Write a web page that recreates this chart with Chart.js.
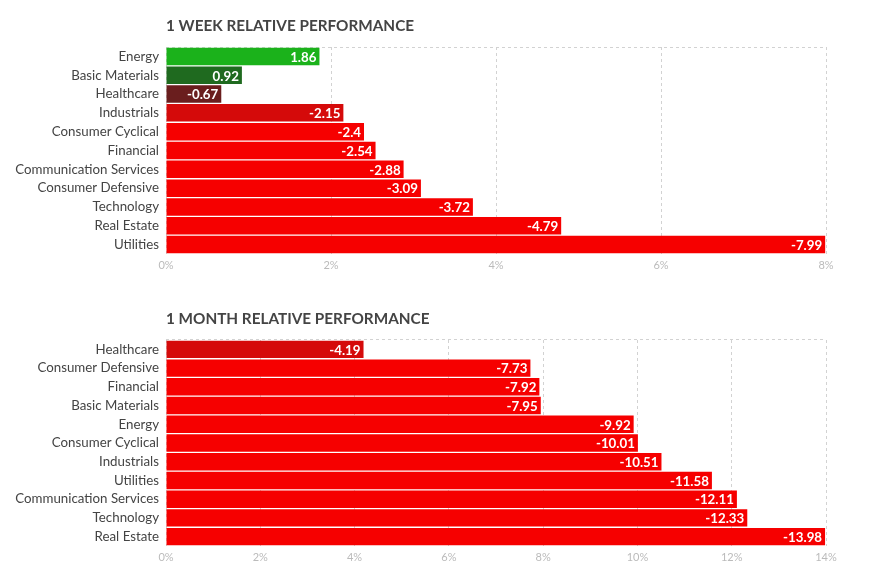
<!DOCTYPE html>
<html>
<head>
<meta charset="utf-8">
<script src="https://cdn.jsdelivr.net/npm/chart.js@4.4.1/dist/chart.umd.min.js"></script>
<style>
  html,body{margin:0;padding:0;background:#fff;width:883px;height:578px;overflow:hidden;}
  canvas{position:absolute;left:0;}
  #c1{top:0;}
  #c2{top:290px;}
</style>
</head>
<body>
<canvas id="c1" width="883" height="290"></canvas>
<canvas id="c2" width="883" height="288"></canvas>
<script>
// ---- data ----
const weekTitle = "1 WEEK RELATIVE PERFORMANCE";
const weekCategories = ["Energy","Basic Materials","Healthcare","Industrials","Consumer Cyclical","Financial","Communication Services","Consumer Defensive","Technology","Real Estate","Utilities"];
const weekValues = [1.86, 0.92, -0.67, -2.15, -2.4, -2.54, -2.88, -3.09, -3.72, -4.79, -7.99];
const weekTicks = [0, 2, 4, 6, 8];

const monthTitle = "1 MONTH RELATIVE PERFORMANCE";
const monthCategories = ["Healthcare","Consumer Defensive","Financial","Basic Materials","Energy","Consumer Cyclical","Industrials","Utilities","Communication Services","Technology","Real Estate"];
const monthValues = [-4.19, -7.73, -7.92, -7.95, -9.92, -10.01, -10.51, -11.58, -12.11, -12.33, -13.98];
const monthTicks = [0, 2, 4, 6, 8, 10, 12, 14];

// ---- styling ----
function colorFor(v, fullRedBelow) {
  if (v >= 1.5) return '#1bb21b';
  if (v > 0) return '#1f6a1f';
  if (v > -1) return '#6a1e1e';
  if (v > fullRedBelow) return '#d50a0a';
  return '#f60000';
}

function makeChart(canvasId, title, cats, vals, ticks, fullRedBelow, padTop, padBottom, titleY) {
  const labelPlugin = {
    id: 'valueLabels',
    afterDatasetsDraw(chart) {
      const ctx = chart.ctx;
      const meta = chart.getDatasetMeta(0);
      ctx.save();
      ctx.font = 'bold 13.3px Lato';
      ctx.fillStyle = '#ffffff';
      ctx.textAlign = 'right';
      ctx.textBaseline = 'middle';
      meta.data.forEach((bar, i) => {
        ctx.fillText(String(vals[i]), bar.x - 3, bar.y + 1);
      });
      ctx.restore();
    }
  };
  const titlePlugin = {
    id: 'leftTitle',
    afterDraw(chart) {
      const ctx = chart.ctx;
      ctx.save();
      ctx.font = 'bold 15.3px Lato';
      ctx.fillStyle = '#444444';
      ctx.textAlign = 'left';
      ctx.textBaseline = 'middle';
      ctx.fillText(title, chart.chartArea.left, titleY);
      ctx.restore();
    }
  };
  return new Chart(document.getElementById(canvasId), {
    type: 'bar',
    data: {
      labels: cats,
      datasets: [{
        data: vals.map(v => Math.abs(v)),
        backgroundColor: vals.map(v => colorFor(v, fullRedBelow)),
        borderWidth: 0,
        barPercentage: 0.93,
        categoryPercentage: 1.0
      }]
    },
    options: {
      indexAxis: 'y',
      responsive: false,
      animation: false,
      devicePixelRatio: 1,
      layout: { padding: { top: padTop, right: 57, bottom: padBottom, left: 0 } },
      plugins: { legend: { display: false }, tooltip: { enabled: false }, title: { display: false } },
      scales: {
        x: {
          min: ticks[0],
          max: ticks[ticks.length - 1],
          afterBuildTicks(scale) { scale.ticks = ticks.map(v => ({ value: v })); },
          afterFit(scale) { scale.height = 30; },
          ticks: {
            callback: v => v + '%',
            color: '#bbbbbb',
            font: { family: 'Lato', size: 11 },
            padding: 5,
            maxRotation: 0,
            autoSkip: false
          },
          grid: { color: '#d2d2d2', lineWidth: 1, drawTicks: false },
          border: { display: false, dash: [3, 3] }
        },
        y: {
          afterFit(scale) { scale.width = 166; },
          ticks: {
            color: '#444444',
            font: { family: 'Lato', size: 13.3 },
            padding: 7,
            autoSkip: false
          },
          grid: {
            drawTicks: false,
            color: c => (c.index === 0 && c.tick ? '#d2d2d2' : 'rgba(0,0,0,0)'),
            lineWidth: 1
          },
          border: { display: false, dash: [3, 3] }
        }
      }
    },
    plugins: [labelPlugin, titlePlugin]
  });
}

makeChart('c1', weekTitle, weekCategories, weekValues, weekTicks, -2.3, 47, 6, 26);
makeChart('c2', monthTitle, monthCategories, monthValues, monthTicks, -5, 50, 2, 29);
</script>
</body>
</html>
